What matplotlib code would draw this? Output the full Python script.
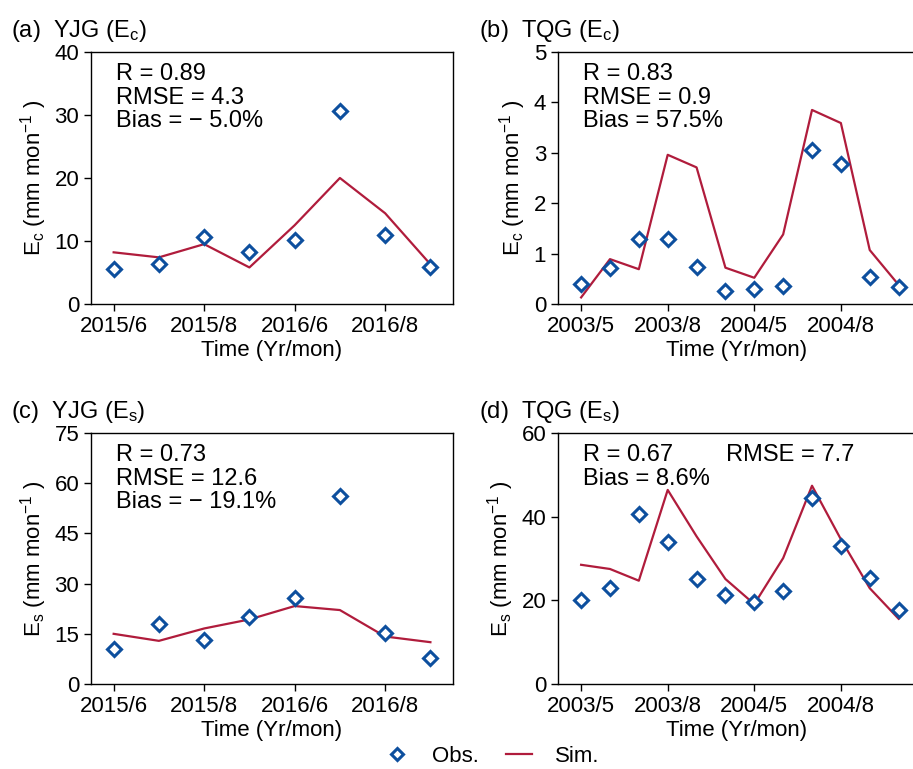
import matplotlib
matplotlib.use("Agg")
import matplotlib.pyplot as plt
from matplotlib.lines import Line2D

plt.rcParams['font.family'] = ['Liberation Sans', 'DejaVu Sans']
plt.rcParams['mathtext.fontset'] = 'custom'
plt.rcParams['mathtext.rm'] = 'Liberation Sans'
plt.rcParams['mathtext.it'] = 'Liberation Sans'

# YJG months: 2015/6-9, 2016/6-9 ; TQG months: 2003/5-10, 2004/5-10
yjg_ticks = ['2015/6', '2015/8', '2016/6', '2016/8']
tqg_ticks = ['2003/5', '2003/8', '2004/5', '2004/8']

yjg_ec_obs = [5.6, 6.3, 10.6, 8.2, 10.2, 30.7, 10.9, 5.9]
yjg_ec_sim = [8.2, 7.4, 9.5, 5.8, 12.5, 20.0, 14.4, 6.3]

tqg_ec_obs = [0.39, 0.71, 1.28, 1.28, 0.74, 0.26, 0.29, 0.36, 3.05, 2.78, 0.53, 0.34]
tqg_ec_sim = [0.13, 0.89, 0.69, 2.96, 2.71, 0.72, 0.52, 1.38, 3.85, 3.59, 1.07, 0.38]

yjg_es_obs = [10.4, 17.8, 13.2, 19.9, 25.6, 56.2, 15.2, 7.7]
yjg_es_sim = [15.0, 12.9, 16.6, 19.3, 23.3, 22.1, 14.2, 12.5]

tqg_es_obs = [20.1, 22.9, 40.7, 33.9, 25.1, 21.3, 19.6, 22.3, 44.5, 33.0, 25.3, 17.6]
tqg_es_sim = [28.5, 27.5, 24.7, 46.4, 35.3, 25.1, 19.1, 30.1, 47.4, 34.6, 22.9, 15.6]

obs_color = '#0d4f9e'
sim_color = '#b01c3c'
fs = 16

fig = plt.figure(figsize=(9.13, 7.69), dpi=100)

panels = [
    # rect, obs, sim, ticks, tick step, ylim, yticks, title, ylabel, stats text
    ([0.0997, 0.6047, 0.3965, 0.3277], yjg_ec_obs, yjg_ec_sim, yjg_ticks, 2,
     (0, 40), [0, 10, 20, 30, 40], '(a)  YJG (E$_\\mathregular{c}$)', 'c',
     'R = 0.89\nRMSE = 4.3\nBias = \u2212 5.0%', (-0.5, 7.5)),
    ([0.6112, 0.6047, 0.392, 0.3277], tqg_ec_obs, tqg_ec_sim, tqg_ticks, 3,
     (0, 5), [0, 1, 2, 3, 4, 5], '(b)  TQG (E$_\\mathregular{c}$)', 'c',
     'R = 0.83\nRMSE = 0.9\nBias = 57.5%', (-0.8, 11.6)),
    ([0.0997, 0.1105, 0.3965, 0.3264], yjg_es_obs, yjg_es_sim, yjg_ticks, 2,
     (0, 75), [0, 15, 30, 45, 60, 75], '(c)  YJG (E$_\\mathregular{s}$)', 's',
     'R = 0.73\nRMSE = 12.6\nBias = \u2212 19.1%', (-0.5, 7.5)),
    ([0.6112, 0.1105, 0.392, 0.3264], tqg_es_obs, tqg_es_sim, tqg_ticks, 3,
     (0, 60), [0, 20, 40, 60], '(d)  TQG (E$_\\mathregular{s}$)', 's',
     'R = 0.67        RMSE = 7.7\nBias = 8.6%', (-0.8, 11.6)),
]

for rect, obs, sim, ticks, step, ylim, yticks, title, sub, stats, xlim in panels:
    ax = fig.add_axes(rect)
    x = list(range(len(obs)))
    ax.plot(x, sim, color=sim_color, lw=1.6, zorder=2)
    ax.plot(x, obs, ls='none', marker='D', ms=7, mfc='white', mec=obs_color,
            mew=2.2, zorder=3)
    ax.set_xlim(*xlim)
    ax.set_ylim(*ylim)
    ax.set_yticks(yticks)
    ax.set_xticks(x[::step])
    ax.set_xticklabels(ticks)
    ax.tick_params(labelsize=fs, length=5, width=1)
    ax.set_ylabel('E$_\\mathregular{%s}$ (mm mon$^\\mathregular{-1}$ )' % sub,
                  fontsize=fs, labelpad=4)
    ax.set_xlabel('Time (Yr/mon)', fontsize=fs, labelpad=2)
    ax.text(0.07, 0.955, stats, transform=ax.transAxes, fontsize=fs + 1,
            va='top', ha='left', linespacing=1.08)
    ax.text(-0.22, 1.03, title, transform=ax.transAxes, fontsize=fs + 1,
            va='bottom', ha='left')
    for s in ax.spines.values():
        s.set_linewidth(1.0)

handles = [
    Line2D([], [], ls='none', marker='D', ms=6, mfc='white', mec=obs_color, mew=2.2),
    Line2D([], [], color=sim_color, lw=1.6),
]
fig.legend(handles, ['Obs.', 'Sim.'], loc='center', bbox_to_anchor=(0.538, 0.016),
           ncol=2, frameon=False, fontsize=fs, columnspacing=1.2,
           handlelength=1.2, handletextpad=1.0)

fig.savefig('out.png', dpi=100)
